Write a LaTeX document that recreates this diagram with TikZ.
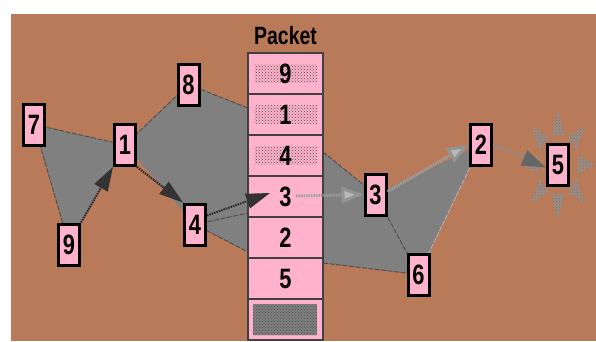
\documentclass[tikz,border=0pt]{standalone}
\usepackage{fontspec}
\setmainfont{Liberation Sans}[FakeStretch=0.78]
\usetikzlibrary{arrows.meta,patterns}
\definecolor{bg}{RGB}{185,122,89}
\definecolor{pk}{RGB}{255,178,204}
\definecolor{gr}{RGB}{128,128,128}
\definecolor{burst}{RGB}{160,140,130}
\begin{document}
\begin{tikzpicture}[x=1pt,y=-1pt,
  nbox/.style={draw=black, line width=3pt, fill=pk, minimum width=21pt, minimum height=41pt, inner sep=0pt, font=\fontsize{28}{28}\selectfont\bfseries},
  prow/.style={draw=black!75, line width=1.2pt, fill=pk, minimum width=75pt, minimum height=41pt, inner sep=0pt, font=\fontsize{28}{28}\selectfont\bfseries},
  shaded/.style={path picture={\fill[pattern=crosshatch dots, pattern color=black!70] ([xshift=7pt,yshift=-9pt]path picture bounding box.west) rectangle ([xshift=-6pt,yshift=9pt]path picture bounding box.east);}},
  edge/.style={draw=black!70, line width=0.9pt, dash pattern=on 5pt off 1.5pt},
  blackarr/.style={draw=black!85, line width=2pt, dash pattern=on 1.5pt off 1pt, arrows={-Triangle[length=24pt,width=15pt,fill=black!80,color=black!80]}},
  lightarr/.style={draw=gray!75!white, line width=3pt, dash pattern=on 1.5pt off 1pt, arrows={-Triangle[length=22pt,width=16pt,fill=gray!55,color=gray!85]}},
  darkarr/.style={draw=gray!90, line width=2.5pt, dash pattern=on 1.5pt off 1pt, arrows={-Triangle[length=24pt,width=16pt,fill=black!60,color=black!60]}}
]
\useasboundingbox (0,0) rectangle (596,341);
\clip (0,0) rectangle (596,341);
\fill[bg] (11,14) rectangle (596,341);

% positions
\coordinate (c7) at (34,124.5);
\coordinate (c1) at (125,145);
\coordinate (c8) at (188.5,84.5);
\coordinate (c9) at (69,244.5);
\coordinate (c4) at (195,224.5);
\coordinate (c3) at (375.5,194.5);
\coordinate (c6) at (418.5,274.5);
\coordinate (c2) at (481,144.5);
\coordinate (c5) at (558,164.5);
\coordinate (pl1) at (248,108);
\coordinate (pl2) at (248,252);
\coordinate (pl3) at (248,213);
\coordinate (pr1) at (323,152);
\coordinate (pr2) at (323,263);
\coordinate (s3) at (296,196);
\coordinate (a4) at (270,193);

% grey regions
\fill[gr] (c7) -- (c1) -- (c9) -- cycle;
\fill[gr] (c1) -- (c8) -- (pl1) -- (pl2) -- (c4) -- cycle;
\fill[gr] (pr1) -- (c3) -- (c2) -- (c6) -- (pr2) -- cycle;

% region edges
\draw[edge] (c7) -- (c1);
\draw[edge] (c1) -- (c8);
\draw[edge] (c8) -- (pl1);
\draw[edge] (c7) -- (c9);
\draw[edge] (c4) -- (pl2);
\draw[edge] (c4) -- (pl3);
\draw[edge] (pr1) -- (c3);
\draw[edge] (c3) -- (c6);
\draw[edge] (c6) -- (pr2);
\draw[edge, draw=gray!60] (c2) -- (c6);

% burst around 5
\begin{scope}[shift={(c5)}, xscale=0.68]
  \foreach \a in {90,135,180,225,270,315,360,405}{
    \fill[burst] (\a:55) -- (\a-17:31) -- (\a+17:31) -- cycle;
    \fill[pattern=crosshatch dots, pattern color=black!55] (\a:55) -- (\a-17:31) -- (\a+17:31) -- cycle;
  }
\end{scope}

% packet
\node[font=\fontsize{25}{25}\selectfont\bfseries] (title) at (285.5,36) {Packet};
\node[prow, shaded] (p1) at (285.5,73.5) {9};
\node[prow, shaded] (p2) at (285.5,114.5) {1};
\node[prow, shaded] (p3) at (285.5,155.5) {4};
\node[prow] (p4) at (285.5,196.5) {3};
\node[prow] (p5) at (285.5,237.5) {2};
\node[prow] (p6) at (285.5,278.5) {5};
\node[prow] (p7) at (285.5,319.5) {};
\fill[fill=gr] (253,304) rectangle (317,335);
\fill[pattern=crosshatch dots, pattern color=black!70] (253,304) rectangle (317,335);

% nodes
\node[nbox] (n7) at (c7) {7};
\node[nbox] (n1) at (c1) {1};
\node[nbox] (n8) at (c8) {8};
\node[nbox] (n9) at (c9) {9};
\node[nbox] (n4) at (c4) {4};
\node[nbox] (n3) at (c3) {3};
\node[nbox] (n6) at (c6) {6};
\node[nbox] (n2) at (c2) {2};
\node[nbox] (n5) at (c5) {5};

% arrows
\draw[blackarr] (n9.north east) -- (n1.south west);
\draw[blackarr] (n1.south east) -- (n4.north west);
\draw[blackarr] ([yshift=9pt]n4.east) -- (a4);
\draw[lightarr] (s3) -- (n3.west);
\draw[lightarr] ([yshift=3pt]n3.east) -- (n2.west);
\draw[darkarr] (n2.east) -- ([yshift=-3pt]n5.west);
\end{tikzpicture}
\end{document}
